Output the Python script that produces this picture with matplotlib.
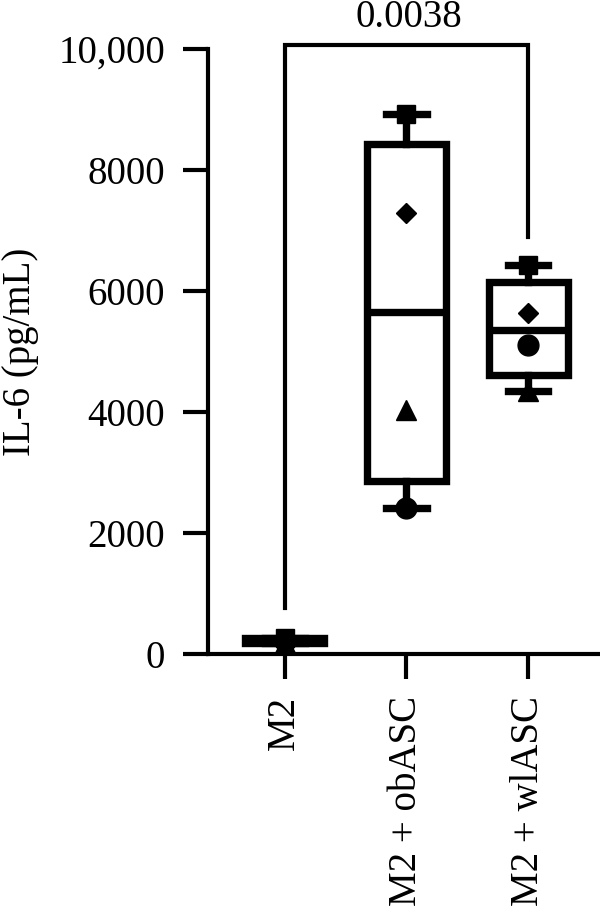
import matplotlib
matplotlib.use("Agg")
import matplotlib.pyplot as plt
import numpy as np

# ---- data ----
groups = ["M2", "M2 + obASC", "M2 + wlASC"]
# individual points per group (marker order below)
points_m2 = [270, 240, 190, 210]
points_ob = [8930, 7290, 4030, 2410]
points_wl = [6430, 5640, 5110, 4350]
# box statistics
whislo = [180, 2410, 4350]
q1 = [190, 2860, 4610]
med = [225, 5650, 5360]
q3 = [265, 8430, 6150]
whishi = [270, 8930, 6430]
p_value_text = "0.0038"
yticks = [0, 2000, 4000, 6000, 8000, 10000]
ytick_labels = ["0", "2000", "4000", "6000", "8000", "10,000"]
ylabel = "IL-6 (pg/mL)"

group_markers = [["s", "D", "^", "o"],
                 ["s", "D", "^", "o"],
                 ["s", "D", "o", "^"]]
marker_size = {"s": 13, "D": 10, "^": 14, "o": 15}

plt.rcParams['font.family'] = ['Liberation Serif', 'DejaVu Serif']

fig = plt.figure(figsize=(6, 9.15), dpi=100)
ax = fig.add_axes([208/600, 1-654/915, 1-208/600, (654-49)/915])

stats = []
for i in range(3):
    stats.append(dict(whislo=whislo[i], q1=q1[i], med=med[i], q3=q3[i],
                      whishi=whishi[i], fliers=[]))
lw = 5.3
ax.bxp(stats, positions=[0, 1, 2], widths=0.65, patch_artist=True,
       showfliers=False,
       boxprops=dict(facecolor="white", edgecolor="black", linewidth=lw),
       medianprops=dict(color="black", linewidth=lw),
       whiskerprops=dict(color="black", linewidth=lw),
       capprops=dict(color="black", linewidth=lw),
       capwidths=0.33, manage_ticks=False, zorder=2)

all_points = [points_m2, points_ob, points_wl]
for i, pts in enumerate(all_points):
    for j, v in enumerate(pts):
        m = group_markers[i][j]
        ax.plot(i, v, marker=m, markersize=marker_size[m],
                color="black", linestyle="none", zorder=3, clip_on=False)

ax.set_xlim(-0.63, 2.59)
ax.set_ylim(0, 10000)
ax.set_yticks(yticks)
ax.set_yticklabels(ytick_labels)
ax.set_xticks([0, 1, 2])
ax.set_xticklabels(groups, rotation=90)
ax.tick_params(axis='both', labelsize=28, width=3, length=18, color="black")
ax.tick_params(axis='y', pad=13)
ax.tick_params(axis='x', pad=12)
for s in ["top", "right"]:
    ax.spines[s].set_visible(False)
for s in ["left", "bottom"]:
    ax.spines[s].set_linewidth(3)
ax.set_ylabel(ylabel, fontsize=28, labelpad=14)

# significance bracket
top = 10070
ax.plot([0, 0, 2, 2], [760, top, top, 6890], color="black", linewidth=3,
        clip_on=False, solid_joinstyle="miter", zorder=4)
ax.text(1.02, 10360, p_value_text, ha="center", va="baseline", fontsize=28)

fig.savefig("out.png", dpi=100)
